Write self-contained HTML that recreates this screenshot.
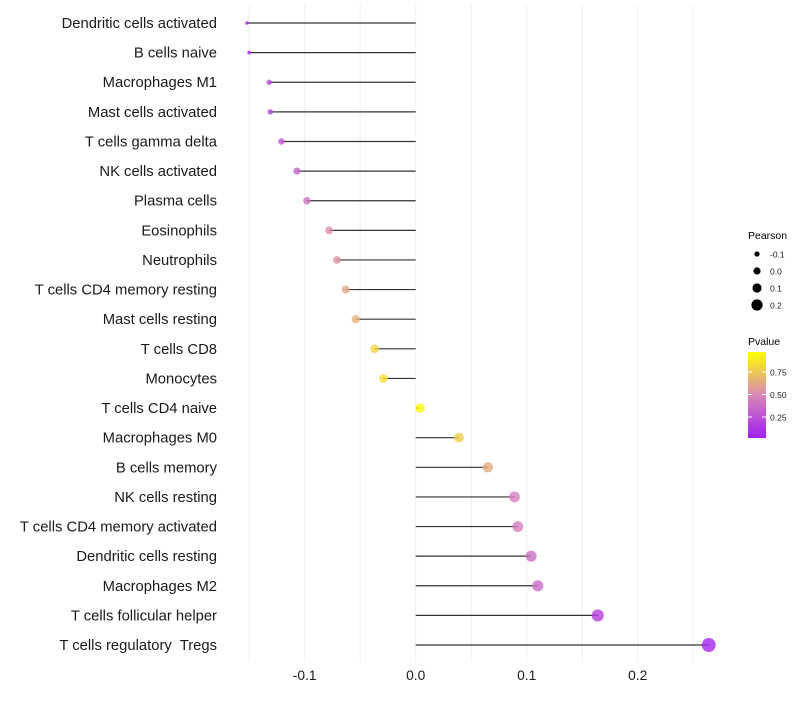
<!DOCTYPE html>
<html><head><meta charset="utf-8"><style>
body{margin:0;background:#fff;font-family:"Liberation Sans",sans-serif}
</style></head><body>
<svg id="c" width="800" height="700" xmlns="http://www.w3.org/2000/svg" font-family="Liberation Sans, sans-serif"></svg>
<script>
const categories=["Dendritic cells activated","B cells naive","Macrophages M1","Mast cells activated","T cells gamma delta","NK cells activated","Plasma cells","Eosinophils","Neutrophils","T cells CD4 memory resting","Mast cells resting","T cells CD8","Monocytes","T cells CD4 naive","Macrophages M0","B cells memory","NK cells resting","T cells CD4 memory activated","Dendritic cells resting","Macrophages M2","T cells follicular helper","T cells regulatory  Tregs"];
const pearson=[-0.152,-0.150,-0.132,-0.131,-0.121,-0.107,-0.098,-0.078,-0.071,-0.063,-0.054,-0.037,-0.029,0.004,0.039,0.065,0.089,0.092,0.104,0.110,0.164,0.264];
const pvalue=[0.03,0.06,0.2,0.2,0.26,0.34,0.4,0.52,0.56,0.63,0.68,0.82,0.87,0.99,0.8,0.65,0.46,0.45,0.38,0.36,0.15,0.03];
const xTicks=[-0.1,0,0.1,0.2];
const xTickLabels=["-0.1","0.0","0.1","0.2"];
const legendSizes=[-0.1,0,0.1,0.2];
const legendSizeLabels=["-0.1","0.0","0.1","0.2"];
const colorTicks=[0.25,0.5,0.75];
const colorTickLabels=["0.25","0.50","0.75"];

const svg=document.getElementById('c');
const NS="http://www.w3.org/2000/svg";
function mk(t,a,p){const e=document.createElementNS(NS,t);for(const k in a)e.setAttribute(k,a[k]);(p||svg).appendChild(e);return e;}
const x=v=>415.7+v*1110;
const y=i=>23+i*29.62;
const r=v=>Math.max(1.5,Math.min(4.6+9*v,1.8+45*(v+0.152)));
function lerp(a,b,t){return a.map((c,i)=>Math.round(c+(b[i]-c)*t));}
function col(p){const s=[[160,32,240],[216,136,184],[255,255,0]];let c=p<0.5?lerp(s[0],s[1],p/0.5):lerp(s[1],s[2],(p-0.5)/0.5);return `rgb(${c})`;}

const grid=mk('g',{});


for(let v=-0.15;v<=0.251;v+=0.05){mk('line',{x1:x(v),x2:x(v),y1:5,y2:662,stroke:'#f0f0f0','stroke-width':1},grid);}

categories.forEach((c,i)=>{
 const t=mk('text',{x:217,y:y(i)+5,'text-anchor':'end','font-size':14.8,fill:'#1a1a1a','xml:space':'preserve'});t.textContent=c;t.style.whiteSpace='pre';
 
 
 const l=mk('line',{x1:x(0),x2:x(pearson[i]),y1:y(i),y2:y(i),stroke:'#000','stroke-width':1.2,'stroke-opacity':0.8});
 
 
 const d=mk('circle',{cx:x(pearson[i]),cy:y(i),r:r(pearson[i]),fill:col(pvalue[i]),'fill-opacity':0.8});
 
 
});
xTicks.forEach((v,i)=>{const t=mk('text',{x:x(v),y:680,'text-anchor':'middle','font-size':13.8,fill:'#1a1a1a'});t.textContent=xTickLabels[i];
 
 });

let t=mk('text',{x:748,y:239,'font-size':10.5,fill:'#000'});t.textContent="Pearson";


const legR=[2.6,3.6,4.6,5.6];
legendSizes.forEach((v,i)=>{const cy=254+i*17;
 const c=mk('circle',{cx:757,cy:cy,r:legR[i],fill:'#000'});
 
 
 const tt=mk('text',{x:770,y:cy+3.5,'font-size':8.5,fill:'#1a1a1a'});tt.textContent=legendSizeLabels[i];
 
 });
t=mk('text',{x:748,y:345,'font-size':10.5,fill:'#000'});t.textContent="Pvalue";


const defs=mk('defs',{});const g=mk('linearGradient',{id:'gr',x1:0,y1:1,x2:0,y2:0},defs);
[0,0.5,1].forEach(o=>mk('stop',{offset:o,'stop-color':col(o)},g));
const cb=mk('rect',{x:748,y:352,width:18,height:86,fill:'url(#gr)'});


const cy=p=>439.5-p*90;
colorTicks.forEach((p,i)=>{mk('line',{x1:748,x2:752,y1:cy(p),y2:cy(p),stroke:'#fff'});mk('line',{x1:762,x2:766,y1:cy(p),y2:cy(p),stroke:'#fff'});
 const tt=mk('text',{x:770,y:cy(p)+3.5,'font-size':8.5,fill:'#1a1a1a'});tt.textContent=colorTickLabels[i];
 
 });
</script>
</body></html>
